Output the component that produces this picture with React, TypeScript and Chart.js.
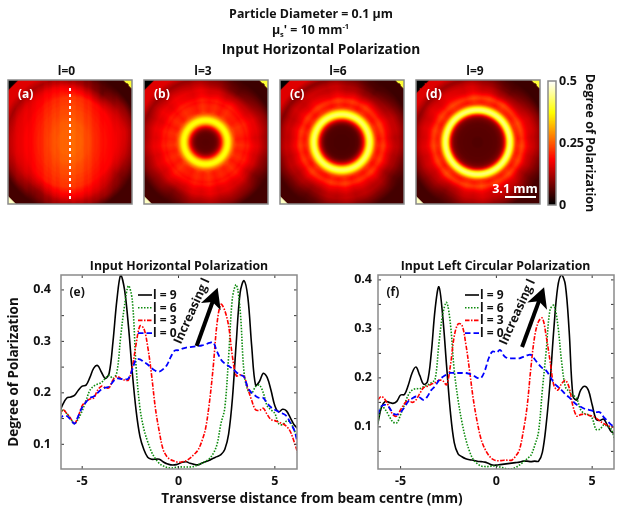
import { useEffect, useRef } from 'react'
import type { CSSProperties, ReactNode } from 'react'
import Chart from 'chart.js/auto'

const FONT = "'Open Sans', sans-serif"
const INK = '#111111'
const FRAME = '#8a8a8a'

// transverse position of every curve sample, mm
const distanceMm = [
  -6.2, -6.0, -5.8, -5.6, -5.4, -5.2, -5.0, -4.8, -4.6, -4.4,
  -4.2, -4.0, -3.8, -3.6, -3.4, -3.2, -3.0, -2.8, -2.6, -2.4,
  -2.2, -2.0, -1.8, -1.6, -1.4, -1.2, -1.0, -0.8, -0.6, -0.4,
  -0.2, 0, 0.2, 0.4, 0.6, 0.8, 1.0, 1.2, 1.4, 1.6,
  1.8, 2.0, 2.2, 2.4, 2.6, 2.8, 3.0, 3.2, 3.4, 3.6,
  3.8, 4.0, 4.2, 4.4, 4.6, 4.8, 5.0, 5.2, 5.4, 5.6,
  5.8, 6.0, 6.2,
]

const horizL9 = [
  0.16, 0.178, 0.19, 0.192, 0.195, 0.205, 0.213, 0.215, 0.23, 0.248,
  0.253, 0.24, 0.228, 0.238, 0.3, 0.38, 0.429, 0.4, 0.33, 0.24,
  0.165, 0.115, 0.09, 0.075, 0.071, 0.071, 0.071, 0.066, 0.062, 0.06,
  0.06, 0.062, 0.065, 0.066, 0.063, 0.061, 0.06, 0.063, 0.066, 0.069,
  0.073, 0.076, 0.08, 0.09, 0.12, 0.19, 0.3, 0.395, 0.418, 0.385,
  0.29, 0.215, 0.222, 0.238, 0.23, 0.205, 0.175, 0.163, 0.168, 0.165,
  0.152, 0.138, 0.13,
]
const horizL6 = [
  0.148, 0.167, 0.16, 0.15, 0.14, 0.15, 0.165, 0.185, 0.205, 0.213,
  0.217, 0.22, 0.228, 0.234, 0.228, 0.24, 0.31, 0.37, 0.408, 0.38,
  0.25, 0.17, 0.13, 0.105, 0.085, 0.072, 0.063, 0.058, 0.055, 0.054,
  0.055, 0.056, 0.056, 0.056, 0.056, 0.057, 0.06, 0.063, 0.067, 0.072,
  0.082, 0.1, 0.14, 0.17, 0.27, 0.385, 0.41, 0.36, 0.24, 0.205,
  0.2, 0.212, 0.215, 0.2, 0.175, 0.167, 0.16, 0.14, 0.138, 0.145,
  0.143, 0.128, 0.11,
]
const horizL3 = [
  0.152, 0.167, 0.16, 0.15, 0.14, 0.155, 0.175, 0.183, 0.188, 0.19,
  0.205, 0.213, 0.21, 0.21, 0.225, 0.232, 0.228, 0.225, 0.225, 0.25,
  0.295, 0.33, 0.325, 0.29, 0.235, 0.17, 0.125, 0.09, 0.076, 0.07,
  0.067, 0.065, 0.066, 0.068, 0.073, 0.08, 0.088, 0.105, 0.13, 0.18,
  0.25, 0.335, 0.372, 0.36, 0.33, 0.27, 0.233, 0.235, 0.232, 0.208,
  0.185, 0.167, 0.166, 0.17, 0.158, 0.148, 0.146, 0.143, 0.14, 0.135,
  0.125, 0.105, 0.082,
]
const horizL0 = [
  0.148, 0.155, 0.155, 0.148, 0.14, 0.155, 0.172, 0.182, 0.19, 0.193,
  0.2, 0.207, 0.21, 0.212, 0.222, 0.228, 0.227, 0.226, 0.228, 0.245,
  0.265, 0.265, 0.26, 0.255, 0.248, 0.243, 0.241, 0.246, 0.254, 0.27,
  0.282, 0.283, 0.286, 0.288, 0.289, 0.29, 0.291, 0.292, 0.294, 0.297,
  0.298, 0.28, 0.265, 0.257, 0.252, 0.247, 0.24, 0.235, 0.231, 0.21,
  0.2, 0.194, 0.19, 0.19, 0.18, 0.172, 0.167, 0.163, 0.16, 0.155,
  0.142, 0.128, 0.1,
]

const circL9 = [
  0.105, 0.14, 0.152, 0.15, 0.148, 0.152, 0.165, 0.166, 0.185, 0.21,
  0.222, 0.205, 0.187, 0.192, 0.25, 0.34, 0.386, 0.325, 0.225, 0.13,
  0.068, 0.045, 0.039, 0.035, 0.033, 0.032, 0.03, 0.029, 0.028, 0.025,
  0.022, 0.022, 0.023, 0.024, 0.025, 0.026, 0.027, 0.028, 0.03, 0.03,
  0.029, 0.03, 0.03, 0.048, 0.105, 0.19, 0.3, 0.385, 0.41, 0.39,
  0.295, 0.162, 0.155, 0.175, 0.183, 0.175, 0.145, 0.116, 0.113, 0.116,
  0.103, 0.09, 0.086,
]
const circL6 = [
  0.105, 0.142, 0.135, 0.122, 0.11, 0.108, 0.125, 0.145, 0.165, 0.175,
  0.178, 0.178, 0.182, 0.185, 0.19, 0.197, 0.27, 0.33, 0.354, 0.31,
  0.215, 0.155, 0.11, 0.075, 0.05, 0.033, 0.025, 0.02, 0.019, 0.019,
  0.02, 0.02, 0.018, 0.016, 0.014, 0.014, 0.017, 0.022, 0.028, 0.035,
  0.042, 0.062, 0.09, 0.175, 0.255, 0.339, 0.348, 0.31, 0.235, 0.182,
  0.172, 0.165, 0.157, 0.135, 0.127, 0.125, 0.118, 0.095, 0.095, 0.104,
  0.101, 0.095, 0.07,
]
const circL3 = [
  0.155, 0.162, 0.155, 0.14, 0.125, 0.122, 0.135, 0.147, 0.155, 0.15,
  0.155, 0.168, 0.18, 0.183, 0.187, 0.19, 0.195, 0.194, 0.186, 0.225,
  0.285, 0.31, 0.308, 0.27, 0.215, 0.155, 0.11, 0.075, 0.055, 0.042,
  0.034, 0.031, 0.031, 0.032, 0.032, 0.032, 0.04, 0.053, 0.09, 0.14,
  0.22, 0.285, 0.315, 0.322, 0.285, 0.235, 0.185, 0.175, 0.188, 0.195,
  0.18, 0.142, 0.122, 0.125, 0.126, 0.124, 0.122, 0.118, 0.112, 0.107,
  0.103, 0.1, 0.1,
]
const circL0 = [
  0.125, 0.142, 0.145, 0.14, 0.128, 0.125, 0.13, 0.14, 0.152, 0.158,
  0.162, 0.16, 0.155, 0.162, 0.175, 0.183, 0.195, 0.202, 0.207, 0.21,
  0.21, 0.21, 0.21, 0.21, 0.208, 0.205, 0.2, 0.2, 0.215, 0.24,
  0.254, 0.252, 0.257, 0.245, 0.24, 0.24, 0.24, 0.24, 0.243, 0.246,
  0.247, 0.238, 0.228, 0.22, 0.215, 0.203, 0.19, 0.182, 0.175, 0.167,
  0.16, 0.152, 0.145, 0.141, 0.137, 0.135, 0.133, 0.13, 0.13, 0.12,
  0.112, 0.104, 0.1,
]

// degree of polarization read by radius, one entry per 0.2 mm from the beam centre
const ringL0 = [
  0.215, 0.215, 0.215, 0.215, 0.215, 0.215, 0.215, 0.212, 0.21, 0.21,
  0.208, 0.205, 0.202, 0.2, 0.198, 0.195, 0.195, 0.19, 0.19, 0.185,
  0.185, 0.18, 0.18, 0.175, 0.17, 0.168, 0.165, 0.16, 0.155, 0.145,
  0.135, 0.125, 0.115,
]
const ringL3 = [
  0.062, 0.063, 0.065, 0.067, 0.07, 0.078, 0.1, 0.14, 0.21, 0.3,
  0.365, 0.385, 0.36, 0.3, 0.25, 0.22, 0.21, 0.21, 0.21, 0.205,
  0.195, 0.2, 0.19, 0.175, 0.17, 0.165, 0.165, 0.155, 0.145, 0.135,
  0.125, 0.115, 0.105,
]
const ringL6 = [
  0.055, 0.055, 0.055, 0.056, 0.056, 0.057, 0.058, 0.06, 0.065, 0.085,
  0.12, 0.19, 0.3, 0.4, 0.43, 0.39, 0.31, 0.235, 0.205, 0.2,
  0.215, 0.22, 0.2, 0.175, 0.165, 0.155, 0.145, 0.14, 0.14, 0.13,
  0.12, 0.105, 0.095,
]
const ringL9 = [
  0.06, 0.06, 0.06, 0.062, 0.062, 0.062, 0.063, 0.064, 0.066, 0.068,
  0.072, 0.08, 0.095, 0.14, 0.25, 0.39, 0.44, 0.405, 0.31, 0.225,
  0.205, 0.215, 0.23, 0.215, 0.19, 0.17, 0.16, 0.155, 0.15, 0.14,
  0.13, 0.115, 0.105,
]

// darkening of the outer zone, 16 sectors starting at -180 degrees, y up
const rimShade = [1.0, 0.92, 0.7, 0.95, 1.0, 0.95, 0.72, 0.9, 1.0, 0.88, 0.55, 0.85, 1.05, 1.05, 1.05, 1.0]
// radial streaks outside the ring, 36 sectors
const spokeShade = [
  1.04, 0.96, 1.02, 0.95, 1.05, 0.98, 0.95, 1.03, 0.97, 1.05, 0.95, 1.01,
  0.97, 1.05, 0.95, 1.03, 0.97, 1.04, 0.95, 1.02, 1.05, 0.96, 0.98, 1.04,
  0.95, 1.03, 0.97, 1.05, 0.95, 1.0, 1.04, 0.96, 1.03, 0.95, 1.03, 0.98,
]
// bright vertical band of the l=0 picture, 16 columns from left to right
const bandBoost = [0, 0, 0, 0, 0.012, 0.025, 0.035, 0.042, 0.045, 0.04, 0.028, 0.012, 0.003, 0, 0, 0]
// fine vertical streaks of the l=0 picture, one per 0.4 mm
const columnStreak = [
  0.001, -0.002, 0.002, -0.001, 0.002, -0.003, 0.001, 0.003, -0.002, 0.004, -0.002, 0.003, -0.004, 0.003, 0.001, -0.003,
  0.004, -0.001, 0.003, -0.003, 0.004, -0.001, 0.002, -0.003, 0.002, 0.001, -0.002, 0.002, -0.001, 0.001, -0.001,
]

const panelNames = ['l=0', 'l=3', 'l=6', 'l=9']
const panelTags = ['(a)', '(b)', '(c)', '(d)']
const panelRings = [ringL0, ringL3, ringL6, ringL9]
const panelSpokesFrom = [99, 2.9, 3.5, 3.9]
const panelBlackCorner = [11.3, 11.3, 11.3, 11.1]

// corners of each picture, outside the inscribed circle
const fillTopLeft = 0.16
const fillTopRight = 0.045
const fillBottomLeft = 0.05
const fillBottomRight = 0.05
const tipTopRight = 0.4
const tipBottomLeft = 0.47

const hotStops = [0, 0.365, 0.746, 1]
const hotRed = [0, 255, 255, 255]
const hotGreen = [0, 0, 255, 255]
const hotBlue = [0, 0, 0, 255]
const colourTicks = [0, 0.25, 0.5]

const seriesLabels = ['l = 9', 'l = 6', 'l = 3', 'l = 0']
const seriesColours = ['#000000', '#0c8a0c', '#ff0000', '#0000ff']
const seriesDashes = [[], [1.5, 1.5], [4.5, 1.5, 1.5, 1.5], [5.5, 3]]
const seriesWidths = [1.6, 1.6, 1.6, 1.8]

function lerpStops(t: number, values: number[]) {
  for (let i = 1; i < hotStops.length; i++) {
    if (t <= hotStops[i]) {
      const f = (t - hotStops[i - 1]) / (hotStops[i] - hotStops[i - 1])
      return Math.round(values[i - 1] + f * (values[i] - values[i - 1]))
    }
  }
  return values[values.length - 1]
}

function hot(v: number) {
  const t = Math.max(0, Math.min(1, v / 0.5))
  return `rgb(${lerpStops(t, hotRed)},${lerpStops(t, hotGreen)},${lerpStops(t, hotBlue)})`
}

function tableAt(table: number[], pos: number) {
  const i = Math.min(table.length - 1, Math.floor(pos))
  const j = Math.min(table.length - 1, i + 1)
  return table[i] + (pos - i) * (table[j] - table[i])
}

function sectorAt(table: number[], angle: number) {
  const pos = ((angle + Math.PI) / (2 * Math.PI)) * table.length - 0.5
  const wrapped = (pos + table.length) % table.length
  const i = Math.floor(wrapped)
  const j = (i + 1) % table.length
  return table[i] + (wrapped - i) * (table[j] - table[i])
}

// look a cell of a picture up in the tables above
function cellValue(panel: number, x: number, y: number) {
  const r = Math.hypot(x, y)
  const sum = Math.abs(x) + Math.abs(y)
  if (x < 0 && y > 0 && sum > panelBlackCorner[panel]) return 0
  if (x > 0 && y > 0 && sum > 11.6) return tipTopRight
  if (x < 0 && y < 0 && sum > 11.5) return tipBottomLeft
  const angle = Math.atan2(y, x)
  let v = tableAt(panelRings[panel], r / 0.2)
  if (r >= panelSpokesFrom[panel]) v *= sectorAt(spokeShade, angle)
  v *= 1 + (sectorAt(rimShade, angle) - 1) * Math.max(0, Math.min(1, (r - 4.6) / 1.2))
  if (panel === 0) {
    v += tableAt(bandBoost, (x + 6.2) / 0.8) * Math.max(0, Math.min(1, (6 - r) / 1.5))
    v += columnStreak[Math.min(30, Math.floor((x + 6.2) / 0.4))]
  }
  if (r > 6.4) {
    const fill = x < 0 ? (y > 0 ? fillTopLeft : fillBottomLeft) : y > 0 ? fillTopRight : fillBottomRight
    v += (fill - v) * Math.min(1, (r - 6.4) / 0.7)
  }
  return v
}

function panelCells(panel: number) {
  const cells: { x: number; y: number; v: number }[] = []
  for (let ix = 0; ix < 124; ix++) {
    for (let iy = 0; iy < 124; iy++) {
      const x = -6.15 + ix * 0.1
      const y = -6.15 + iy * 0.1
      cells.push({ x, y, v: cellValue(panel, x, y) })
    }
  }
  return cells
}

function colourCells() {
  const cells: { x: number; y: number; v: number }[] = []
  for (let ix = 0; ix < 8; ix++) {
    for (let iy = 0; iy < 124; iy++) {
      const v = (iy + 0.5) * (0.5 / 124)
      cells.push({ x: ix + 0.5, y: v, v })
    }
  }
  return cells
}

const framePlugin = {
  id: 'frame',
  afterDatasetsDraw: (chart: any) => {
    const { ctx, chartArea: a } = chart
    ctx.save()
    ctx.strokeStyle = FRAME
    ctx.lineWidth = 1.5
    ctx.strokeRect(a.left, a.top, a.right - a.left, a.bottom - a.top)
    ctx.restore()
  },
}

function cellDataset(cells: { x: number; y: number; v: number }[]) {
  return {
    type: 'scatter',
    data: cells,
    pointStyle: 'rect',
    pointRadius: 1.05,
    borderWidth: 0,
    pointBorderWidth: 0,
    pointBackgroundColor: cells.map((c) => hot(c.v)),
  }
}

function panelConfig(panel: number, left: number) {
  const datasets: any[] = [cellDataset(panelCells(panel))]
  if (panel === 0) {
    datasets.unshift({
      type: 'line',
      data: [
        { x: 0, y: -5.7 },
        { x: 0, y: 5.7 },
      ],
      borderColor: '#ffffff',
      borderWidth: 2,
      borderDash: [3, 3],
      pointRadius: 0,
    })
  }
  const labels = {
    id: 'panelLabels',
    afterDatasetsDraw: (chart: any) => {
      const { ctx, scales } = chart
      ctx.save()
      ctx.fillStyle = '#ffffff'
      ctx.font = `bold 12px ${FONT}`
      ctx.textBaseline = 'middle'
      ctx.fillText(panelTags[panel], scales.x.getPixelForValue(-5.2), scales.y.getPixelForValue(4.7))
      if (panel === 3) {
        const barLeft = scales.x.getPixelForValue(2.7)
        const barRight = scales.x.getPixelForValue(5.8)
        const barY = scales.y.getPixelForValue(-5.5)
        ctx.strokeStyle = '#ffffff'
        ctx.lineWidth = 2
        ctx.beginPath()
        ctx.moveTo(barLeft, barY)
        ctx.lineTo(barRight, barY)
        ctx.stroke()
        ctx.textAlign = 'center'
        ctx.font = `bold 12.5px ${FONT}`
        ctx.fillText('3.1 mm', (barLeft + barRight) / 2 - 5.5, barY - 8)
      }
      ctx.restore()
    },
  }
  return {
    type: 'scatter',
    data: { datasets },
    options: {
      animation: false,
      responsive: false,
      events: [],
      layout: { padding: { left, top: 80, right: 623 - left - 124, bottom: 514 - 204 } },
      plugins: { legend: { display: false }, tooltip: { enabled: false } },
      scales: {
        x: { type: 'linear', min: -6.2, max: 6.2, display: false },
        y: { type: 'linear', min: -6.2, max: 6.2, display: false },
      },
    },
    plugins: [labels, framePlugin],
  }
}

function colourBarConfig() {
  return {
    type: 'scatter',
    data: { datasets: [cellDataset(colourCells())] },
    options: {
      animation: false,
      responsive: false,
      events: [],
      layout: { padding: { left: 548, top: 81, right: 26, bottom: 514 - 205 } },
      plugins: { legend: { display: false }, tooltip: { enabled: false } },
      scales: {
        x: { type: 'linear', min: 0, max: 8, display: false },
        y: {
          type: 'linear',
          position: 'right',
          min: 0,
          max: 0.5,
          afterFit: (s: any) => {
            s.width = 41
          },
          afterBuildTicks: (s: any) => {
            s.ticks = colourTicks.map((value) => ({ value }))
          },
          grid: { display: false, drawTicks: false },
          border: { display: false },
          ticks: {
            padding: 3,
            color: INK,
            font: { family: FONT, weight: 'bold', size: 12.5 },
            callback: (v: any) => String(v),
          },
          title: {
            display: true,
            text: 'Degree of Polarization',
            color: INK,
            padding: 0,
            font: { family: FONT, weight: 'bold', size: 12.5 },
          },
        },
      },
    },
    plugins: [framePlugin],
  }
}

type CurvePanel = {
  series: number[][]
  tag: string
  left: number
  right: number
  xMin: number
  xMax: number
  yMin: number
  yMax: number
  yTicks: number[]
  yMinor: number[]
  yTitle?: string
  arrow: number[]
  legendLeft: number
}

const horizPanel: CurvePanel = {
  series: [horizL9, horizL6, horizL3, horizL0],
  tag: '(e)',
  left: 61,
  right: 297,
  xMin: -6.1,
  xMax: 6.15,
  yMin: 0.052,
  yMax: 0.429,
  yTicks: [0.1, 0.2, 0.3, 0.4],
  yMinor: [0.15, 0.25, 0.35],
  yTitle: 'Degree of Polarization',
  arrow: [0.94, 0.291, 2.03, 0.404],
  legendLeft: 138,
}

const circPanel: CurvePanel = {
  series: [circL9, circL6, circL3, circL0],
  tag: '(f)',
  left: 378,
  right: 614,
  xMin: -6.18,
  xMax: 6.14,
  yMin: 0.014,
  yMax: 0.41,
  yTicks: [0.1, 0.2, 0.3, 0.4],
  yMinor: [0.05, 0.15, 0.25, 0.35],
  arrow: [1.34, 0.263, 2.49, 0.385],
  legendLeft: 465,
}

const xTicks = [-5, 0, 5]

function curveConfig(p: CurvePanel) {
  const extras = {
    id: 'curveExtras',
    afterDatasetsDraw: (chart: any) => {
      const { ctx, scales, chartArea: a } = chart
      const { x, y } = scales
      ctx.save()

      // inward ticks on all four sides
      ctx.strokeStyle = '#333333'
      ctx.lineWidth = 1
      ctx.beginPath()
      xTicks.forEach((t) => {
        const px = x.getPixelForValue(t)
        ctx.moveTo(px, a.top)
        ctx.lineTo(px, a.top + 3)
        ctx.moveTo(px, a.bottom)
        ctx.lineTo(px, a.bottom - 3)
      })
      ;[...p.yTicks, ...p.yMinor].forEach((t) => {
        const py = y.getPixelForValue(t)
        ctx.moveTo(a.left, py)
        ctx.lineTo(a.left + 3, py)
        ctx.moveTo(a.right, py)
        ctx.lineTo(a.right - 3, py)
      })
      ctx.stroke()

      // panel tag
      ctx.fillStyle = INK
      ctx.font = `bold 12px ${FONT}`
      ctx.textBaseline = 'middle'
      ctx.fillText(p.tag, a.left + 8.5, 292.5)

      // legend
      seriesLabels.forEach((label, i) => {
        const ly = 295 + i * 12.7
        ctx.strokeStyle = seriesColours[i]
        ctx.lineWidth = seriesWidths[i]
        ctx.setLineDash(seriesDashes[i])
        ctx.beginPath()
        ctx.moveTo(p.legendLeft, ly)
        ctx.lineTo(p.legendLeft + 14, ly)
        ctx.stroke()
        ctx.setLineDash([])
        ctx.fillStyle = INK
        ctx.fillText(label, p.legendLeft + 15, ly + 0.5)
      })

      // arrow and its caption
      const x0 = x.getPixelForValue(p.arrow[0])
      const y0 = y.getPixelForValue(p.arrow[1])
      const x1 = x.getPixelForValue(p.arrow[2])
      const y1 = y.getPixelForValue(p.arrow[3])
      const angle = Math.atan2(y1 - y0, x1 - x0)
      ctx.translate(x1, y1)
      ctx.rotate(angle)
      const len = Math.hypot(x1 - x0, y1 - y0)
      ctx.fillStyle = '#000000'
      ctx.fillRect(-len, -2, len - 14, 4)
      ctx.beginPath()
      ctx.moveTo(0, 0)
      ctx.lineTo(-20, -10.5)
      ctx.lineTo(-15, 0)
      ctx.lineTo(-20, 10.5)
      ctx.closePath()
      ctx.fill()
      ctx.setTransform(1, 0, 0, 1, 0, 0)
      ctx.translate(x0 - 4.5, y0 - 35)
      ctx.rotate(-1.147)
      ctx.textAlign = 'center'
      ctx.fillStyle = INK
      ctx.font = `bold 12.3px ${FONT}`
      ctx.fillText('Increasing l', 0, 0)
      ctx.restore()
    },
  }
  const datasets = p.series.map((values, i) => ({
    label: seriesLabels[i],
    data: values.map((v, k) => ({ x: distanceMm[k], y: v })),
    borderColor: seriesColours[i],
    borderWidth: seriesWidths[i],
    borderDash: seriesDashes[i],
    pointRadius: 0,
    tension: 0.35,
    order: 3 - i,
  }))
  return {
    type: 'line',
    data: { datasets },
    options: {
      animation: false,
      responsive: false,
      events: [],
      layout: { padding: { left: p.yTitle ? 0 : p.left - 50, top: 275, right: 623 - p.right, bottom: 0 } },
      plugins: { legend: { display: false }, tooltip: { enabled: false } },
      scales: {
        x: {
          type: 'linear',
          min: p.xMin,
          max: p.xMax,
          afterFit: (s: any) => {
            s.height = 514 - 469
          },
          afterBuildTicks: (s: any) => {
            s.ticks = xTicks.map((value) => ({ value }))
          },
          grid: { display: false, drawTicks: false },
          border: { display: false },
          ticks: {
            padding: 5,
            color: INK,
            maxRotation: 0,
            font: { family: FONT, weight: 'bold', size: 12.5 },
            callback: (v: any) => String(v),
          },
        },
        y: {
          type: 'linear',
          min: p.yMin,
          max: p.yMax,
          afterFit: (s: any) => {
            s.width = p.yTitle ? p.left : 50
          },
          afterBuildTicks: (s: any) => {
            s.ticks = p.yTicks.map((value) => ({ value }))
          },
          grid: { display: false, drawTicks: false },
          border: { display: false },
          ticks: {
            padding: p.yTitle ? 10 : 6,
            color: INK,
            font: { family: FONT, weight: 'bold', size: 12.5 },
            callback: (v: any) => Number(v).toFixed(1),
          },
          title: {
            display: Boolean(p.yTitle),
            text: p.yTitle,
            color: INK,
            padding: { top: 6, bottom: 0 },
            font: { family: FONT, weight: 'bold', size: 13.5 },
          },
        },
      },
    },
    plugins: [extras, framePlugin],
  }
}

function Plot({ config }: { config: () => any }) {
  const canvasRef = useRef<HTMLCanvasElement>(null)
  const chartRef = useRef<Chart | null>(null)

  useEffect(() => {
    if (!canvasRef.current) return
    const ctx = canvasRef.current.getContext('2d')
    if (!ctx) return
    chartRef.current = new Chart(ctx, config())
    return () => {
      if (chartRef.current) {
        chartRef.current.destroy()
      }
    }
  }, [config])

  return <canvas ref={canvasRef} width={623} height={514} style={{ position: 'absolute', left: 0, top: 0 }} />
}

function Caption({ x, y, size, children }: { x: number; y: number; size: number; children: ReactNode }) {
  const style: CSSProperties = {
    position: 'absolute',
    left: x,
    top: y,
    transform: 'translate(-50%, -50%)',
    whiteSpace: 'nowrap',
    fontFamily: FONT,
    fontWeight: 700,
    fontSize: size,
    lineHeight: 1,
    color: INK,
  }
  return <div style={style}>{children}</div>
}

const panelLefts = [8, 144, 280, 416]
const panelTitleCentres = [66.5, 203, 338, 475]
const configs = [
  ...panelLefts.map((left, i) => () => panelConfig(i, left)),
  colourBarConfig,
  () => curveConfig(horizPanel),
  () => curveConfig(circPanel),
]

export default function App() {
  return (
    <div style={{ position: 'absolute', left: 0, top: 0, width: 623, height: 514, overflow: 'hidden', background: '#fff' }}>
      {configs.map((config, i) => (
        <Plot key={i} config={config} />
      ))}
      <Caption x={311} y={14} size={12.4}>
        Particle Diameter = 0.1 µm
      </Caption>
      <Caption x={310.5} y={30} size={12.4}>
        μ<sub style={{ fontSize: 7.5, lineHeight: 0 }}>s</sub>' = 10 mm<sup style={{ fontSize: 7.5, lineHeight: 0 }}>-1</sup>
      </Caption>
      <Caption x={321} y={49} size={13.7}>
        Input Horizontal Polarization
      </Caption>
      {panelNames.map((name, i) => (
        <Caption key={name} x={panelTitleCentres[i]} y={71} size={12}>
          {name}
        </Caption>
      ))}
      <Caption x={179} y={266} size={12.3}>
        Input Horizontal Polarization
      </Caption>
      <Caption x={495.5} y={266} size={12.3}>
        Input Left Circular Polarization
      </Caption>
      <Caption x={312} y={498} size={13.6}>
        Transverse distance from beam centre (mm)
      </Caption>
    </div>
  )
}
